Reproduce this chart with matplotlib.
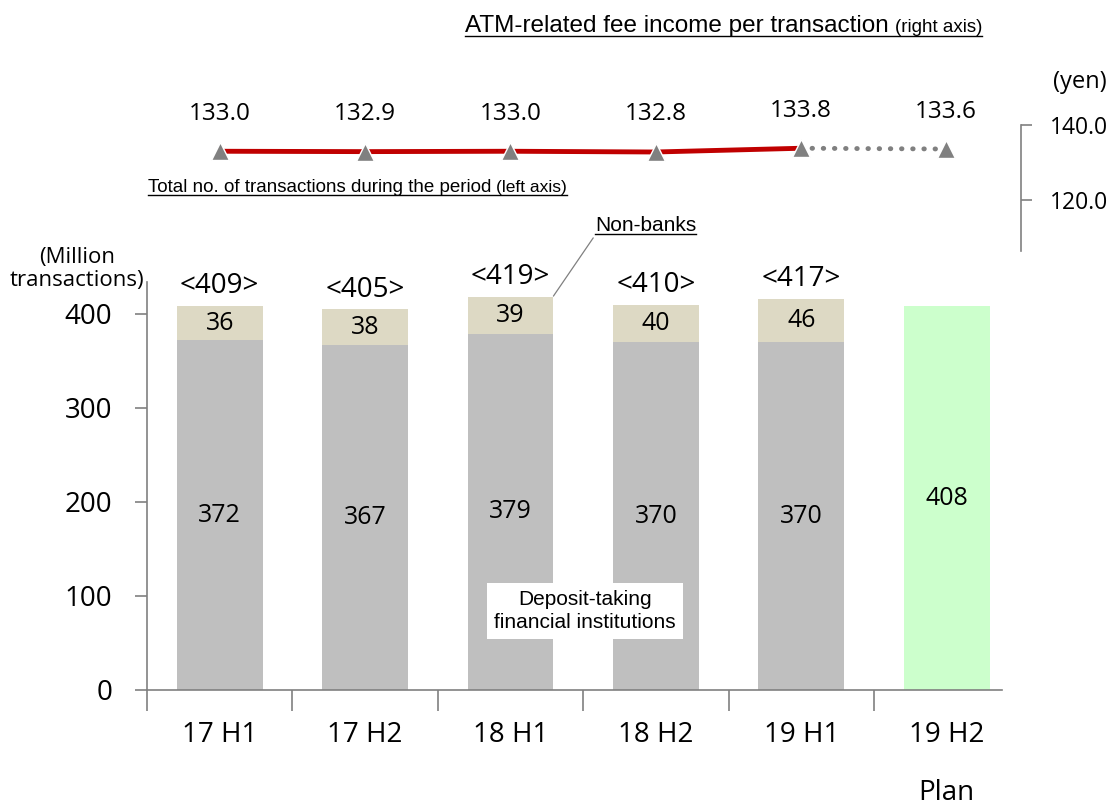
import numpy as np
import matplotlib.pyplot as plt
from matplotlib.lines import Line2D
from matplotlib.text import Text

# Data
periods = ["17 H1", "17 H2", "18 H1", "18 H2", "19 H1", "19 H2"]
deposit = [372, 367, 379, 370, 370]
nonbanks = [36, 38, 39, 40, 46]
totals = [409, 405, 419, 410, 417]
plan_total = [408]
fee = [133.0, 132.9, 133.0, 132.8, 133.8, 133.6]

NUM_FONT = "Open Sans"
TXT_FONT = "Liberation Sans"
GRAY = "#bfbfbf"
BEIGE = "#ddd9c4"
GREEN = "#ccffcc"
RED = "#c00000"
AXIS = "#808080"

W, H = 1114, 805
fig = plt.figure(figsize=(W / 100, H / 100), dpi=100)

def px_rect(l, t, r, b):
    return [l / W, 1 - b / H, (r - l) / W, (b - t) / H]

x = np.arange(len(periods))
bw = 0.59

# bar axes (left axis)
ax = fig.add_axes(px_rect(147, 282, 1002, 690))
ax.bar(x[:5], deposit, bw, color=GRAY)
ax.bar(x[:5], nonbanks, bw, bottom=deposit, color=BEIGE)
ax.bar(x[5:], plan_total, bw, color=GREEN)
ax.set_xlim(-0.5, 5.38)
ax.set_ylim(0, 434)

for xi, d, n, t in zip(x[:5], deposit, nonbanks, totals):
    ax.text(xi, d / 2, str(d), ha="center", va="center", fontsize=18, family=NUM_FONT)
    ax.text(xi, d + n / 2, str(n), ha="center", va="center", fontsize=18, family=NUM_FONT)
    ax.annotate(f"<{t}>", xy=(xi, t), xytext=(0, 14), textcoords="offset points",
                ha="center", va="center", fontsize=20, family=NUM_FONT)
ax.text(x[5], plan_total[0] / 2, str(plan_total[0]), ha="center", va="center",
        fontsize=18, family=NUM_FONT)

for s in ["top", "right"]:
    ax.spines[s].set_visible(False)
for s in ["left", "bottom"]:
    ax.spines[s].set_color(AXIS)
    ax.spines[s].set_linewidth(1.2)

ax.set_yticks([0, 100, 200, 300, 400])
ax.tick_params(axis="y", direction="out", length=9, width=1.2, color=AXIS, pad=16,
               labelsize=20)
for lab in ax.get_yticklabels():
    lab.set_family(NUM_FONT)

ax.set_xticks(np.arange(-0.5, 5, 1.0))
ax.set_xticklabels([])
ax.tick_params(axis="x", which="major", direction="out", length=15, width=1.2, color=AXIS)
ax.set_xticks(x, minor=True)
ax.set_xticklabels(periods, minor=True)
ax.tick_params(axis="x", which="minor", length=0, pad=22, labelsize=20)
for lab in ax.get_xticklabels(minor=True):
    lab.set_family(NUM_FONT)

ax.annotate("Plan", xy=(x[5], 0), xytext=(0, -74), textcoords="offset points",
            ha="center", va="center", fontsize=20, family=NUM_FONT)

ax.text(2.51, 84, "Deposit-taking\nfinancial institutions", ha="center", va="center",
        fontsize=15, family=TXT_FONT, linespacing=1.25,
        bbox=dict(boxstyle="square,pad=0.35", fc="white", ec="none"))

nb = ax.annotate("Non-banks", xy=(2 + bw / 2, 419), xytext=(2.93, 494),
                 ha="center", va="center", fontsize=15, family=TXT_FONT,
                 annotation_clip=False,
                 arrowprops=dict(arrowstyle="-", color=AXIS, lw=0.9, relpos=(0, 0),
                                 shrinkA=0, shrinkB=0))

# line axes (right axis)
ax2 = fig.add_axes(px_rect(147, 125, 1021, 251))
ax2.patch.set_alpha(0)
ax2.plot(x[:5], fee[:5], color=RED, lw=3.5, zorder=2)
ax2.plot(x[4:], fee[4:], color=AXIS, lw=3.5, ls=(0, (0.1, 2.2)), dash_capstyle="round",
         zorder=2)
ax2.plot(x, fee, ls="none", marker="^", ms=13, mfc=AXIS, mec="white", mew=1, zorder=3)
for xi, v in zip(x, fee):
    ax2.annotate(f"{v:.1f}", xy=(xi, v), xytext=(0, 27), textcoords="offset points",
                 ha="center", va="center", fontsize=17.5, family=NUM_FONT,
                 annotation_clip=False)
ax2.set_xlim(-0.5, 5.515)
ax2.set_ylim(106.4, 140)
for s in ["top", "left", "bottom"]:
    ax2.spines[s].set_visible(False)
ax2.spines["right"].set_color(AXIS)
ax2.spines["right"].set_linewidth(1.2)
ax2.yaxis.tick_right()
ax2.set_xticks([])
ax2.set_yticks([120, 140])
ax2.set_yticklabels(["120.0", "140.0"])
ax2.tick_params(axis="y", direction="out", length=8, width=1.2, color=AXIS, pad=13,
                labelsize=16.5)
for lab in ax2.get_yticklabels():
    lab.set_family(NUM_FONT)

fig.text(1080 / W, 1 - 82 / H, "(yen)", ha="center", va="center", fontsize=17,
         family=NUM_FONT)
fig.text(77 / W, 1 - 269 / H, "(Million\ntransactions)", ha="center", va="center",
         fontsize=16, family=NUM_FONT, linespacing=1.15)

# captions: big part + smaller "(... axis)" part, underlined together
caps = [("Total no. of transactions during the period", "(left axis)", 148, 192, 13.5, 12.5, 5),
        ("ATM-related fee income per transaction", "(right axis)", 465, 32, 17.5, 13.5, 6)]

fig.canvas.draw()
r = fig.canvas.get_renderer()
inv = fig.transFigure.inverted()

pairs = []
for big, small, xl, yb, fb, fs, gap in caps:
    t = fig.text(xl / W, 1 - yb / H, big, ha="left", va="baseline", fontsize=fb,
                 family=TXT_FONT)
    bb = t.get_window_extent(r)
    sx = inv.transform((bb.x1 + gap, bb.y0))[0]
    s = fig.text(sx, 1 - yb / H, small, ha="left", va="baseline", fontsize=fs,
                 family=TXT_FONT)
    pairs.append((t, s))

fig.canvas.draw()

def underline(x0, x1, y):
    (fx0, fy), (fx1, _) = inv.transform([(x0, y), (x1, y)])
    fig.add_artist(Line2D([fx0, fx1], [fy, fy], transform=fig.transFigure,
                          color="black", lw=1))

for t, s in pairs:
    b1 = t.get_window_extent(r)
    b2 = s.get_window_extent(r)
    underline(b1.x0, b2.x1, b1.y0 + 1)

bnb = Text.get_window_extent(nb, r)
underline(bnb.x0, bnb.x1, bnb.y0 + 1)

fig.savefig("out.png", dpi=100)
